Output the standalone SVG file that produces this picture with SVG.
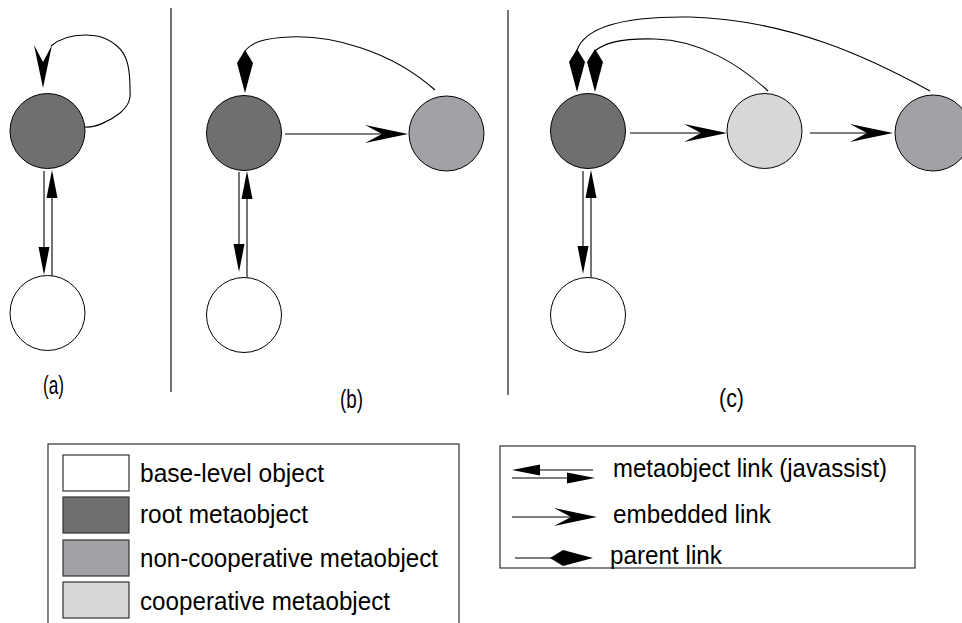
<svg xmlns="http://www.w3.org/2000/svg" xmlns:xlink="http://www.w3.org/1999/xlink" width="962" height="623" viewBox="0 0 962 623">
<style>
  .node{stroke:#000;stroke-width:1}
  .base{fill:#fff}
  .root{fill:#6f6f6f}
  .nonc{fill:#a2a1a6}
  .coop{fill:#d7d7d7}
  .ln{fill:none;stroke:#000;stroke-width:1.1}
  .hd{fill:#000;stroke:none}
  .txt{font-family:"Liberation Sans",Arial,sans-serif;font-size:26px;fill:#000}
  .lbl{font-family:"Liberation Sans",Arial,sans-serif;font-size:26px;fill:#000}
  .box{fill:#fff;stroke:#333;stroke-width:1.2}
  .sw{stroke:#333;stroke-width:1.2}
</style>
<defs>
  <path id="tri" d="M0,0 L-28,-5.5 L-28,5.5 Z"/>
  <path id="barb" d="M0,0 L-43,-9 L-26,0 L-43,9 Z"/>
  <path id="dia" d="M0,0 L-30,-8 L-43,0 L-30,8 Z"/>
</defs>
<rect width="962" height="623" fill="#fff"/>

<!-- dividers -->
<g id="dividers">
  <line x1="171" y1="8" x2="171" y2="392" class="ln"/>
  <line x1="508" y1="10" x2="508" y2="395" class="ln"/>
</g>

<!-- nodes -->
<g id="a-root"><circle cx="47.5" cy="131" r="37.5" class="node root"/></g>
<g id="a-base"><circle cx="47.5" cy="313" r="37.5" class="node base"/></g>
<g id="b-root"><circle cx="244" cy="133" r="37.5" class="node root"/></g>
<g id="b-nonc"><circle cx="446.5" cy="133.5" r="37.5" class="node nonc"/></g>
<g id="b-base"><circle cx="244" cy="315" r="37.5" class="node base"/></g>
<g id="c-root"><circle cx="588" cy="131" r="37.5" class="node root"/></g>
<g id="c-coop"><circle cx="764.5" cy="131" r="37.5" class="node coop"/></g>
<g id="c-nonc"><circle cx="933" cy="133" r="38" class="node nonc"/></g>
<g id="c-base"><circle cx="588" cy="315" r="37.5" class="node base"/></g>

<!-- connectors -->
<g id="connectors">
  <!-- (a) -->
  <path class="ln" d="M85,127 C95,128 110,121 120,113 C128,106 131,100 130,90 C130,70 128,55 117,46 C105,36 95,35 85,35 C70,35 58,40 51,46"/>
  <use xlink:href="#barb" class="hd" transform="translate(43,88) rotate(90)"/>
  <line class="ln" x1="44" y1="171" x2="44" y2="250"/>
  <use xlink:href="#tri" class="hd" transform="translate(44,275) rotate(90)"/>
  <line class="ln" x1="52" y1="276" x2="52" y2="195"/>
  <use xlink:href="#tri" class="hd" transform="translate(52,170) rotate(-90)"/>

  <!-- (b) -->
  <line class="ln" x1="239" y1="172" x2="239" y2="248"/>
  <use xlink:href="#tri" class="hd" transform="translate(239,272) rotate(90)"/>
  <line class="ln" x1="247" y1="277" x2="247" y2="196"/>
  <use xlink:href="#tri" class="hd" transform="translate(247,171) rotate(-90)"/>
  <line class="ln" x1="285" y1="134" x2="385" y2="134"/>
  <use xlink:href="#barb" class="hd" transform="translate(408,134)"/>
  <path class="ln" d="M435,90 C390,50 330,35 290,37 C265,38 252,42 245,51"/>
  <use xlink:href="#dia" class="hd" transform="translate(245,93) rotate(90)"/>

  <!-- (c) -->
  <line class="ln" x1="583" y1="171" x2="583" y2="248"/>
  <use xlink:href="#tri" class="hd" transform="translate(583,274) rotate(90)"/>
  <line class="ln" x1="591" y1="277" x2="591" y2="196"/>
  <use xlink:href="#tri" class="hd" transform="translate(591,170) rotate(-90)"/>
  <line class="ln" x1="630" y1="133" x2="705" y2="133"/>
  <use xlink:href="#barb" class="hd" transform="translate(727,133)"/>
  <line class="ln" x1="810" y1="133" x2="870" y2="133"/>
  <use xlink:href="#barb" class="hd" transform="translate(893,133)"/>
  <path class="ln" d="M768,91 C740,65 700,40 655,39 C625,38 605,42 595,51"/>
  <use xlink:href="#dia" class="hd" transform="translate(595,92) rotate(90)"/>
  <path class="ln" d="M930,91 C870,58 790,20 690,17 C620,16 585,28 577,50"/>
  <use xlink:href="#dia" class="hd" transform="translate(577,92) rotate(90)"/>
</g>

<!-- panel labels -->
<g id="labels">
  <text class="lbl" x="43" y="394" textLength="21" lengthAdjust="spacingAndGlyphs">(a)</text>
  <text class="lbl" x="340" y="408" textLength="23" lengthAdjust="spacingAndGlyphs">(b)</text>
  <text class="lbl" x="719" y="407" textLength="25" lengthAdjust="spacingAndGlyphs">(c)</text>
</g>

<!-- legend: nodes -->
<g id="legend-nodes">
  <rect class="box" x="48" y="444" width="411" height="200"/>
  <rect class="sw base" x="63" y="455" width="66" height="36"/>
  <rect class="sw root" x="63" y="497" width="66" height="36"/>
  <rect class="sw nonc" x="63" y="540" width="66" height="36"/>
  <rect class="sw coop" x="63" y="582" width="66" height="36"/>
  <text class="txt" x="140" y="482" textLength="184" lengthAdjust="spacingAndGlyphs">base-level object</text>
  <text class="txt" x="140" y="523" textLength="168" lengthAdjust="spacingAndGlyphs">root metaobject</text>
  <text class="txt" x="140" y="567" textLength="298" lengthAdjust="spacingAndGlyphs">non-cooperative metaobject</text>
  <text class="txt" x="140" y="610" textLength="250" lengthAdjust="spacingAndGlyphs">cooperative metaobject</text>
</g>

<!-- legend: links -->
<g id="legend-links">
  <rect class="box" x="500" y="446" width="415" height="122"/>
  <line class="ln" x1="535" y1="470" x2="593" y2="470"/>
  <use xlink:href="#tri" class="hd" transform="translate(512,470) rotate(180)"/>
  <line class="ln" x1="512" y1="478" x2="570" y2="478"/>
  <use xlink:href="#tri" class="hd" transform="translate(595,478)"/>
  <line class="ln" x1="512" y1="517" x2="575" y2="517"/>
  <use xlink:href="#barb" class="hd" transform="translate(597,517)"/>
  <line class="ln" x1="515" y1="558" x2="555" y2="558"/>
  <use xlink:href="#dia" class="hd" transform="translate(593,558)"/>
  <text class="txt" x="613" y="477" textLength="274" lengthAdjust="spacingAndGlyphs">metaobject link (javassist)</text>
  <text class="txt" x="613" y="523" textLength="158" lengthAdjust="spacingAndGlyphs">embedded link</text>
  <text class="txt" x="610" y="564" textLength="112" lengthAdjust="spacingAndGlyphs">parent link</text>
</g>
</svg>
